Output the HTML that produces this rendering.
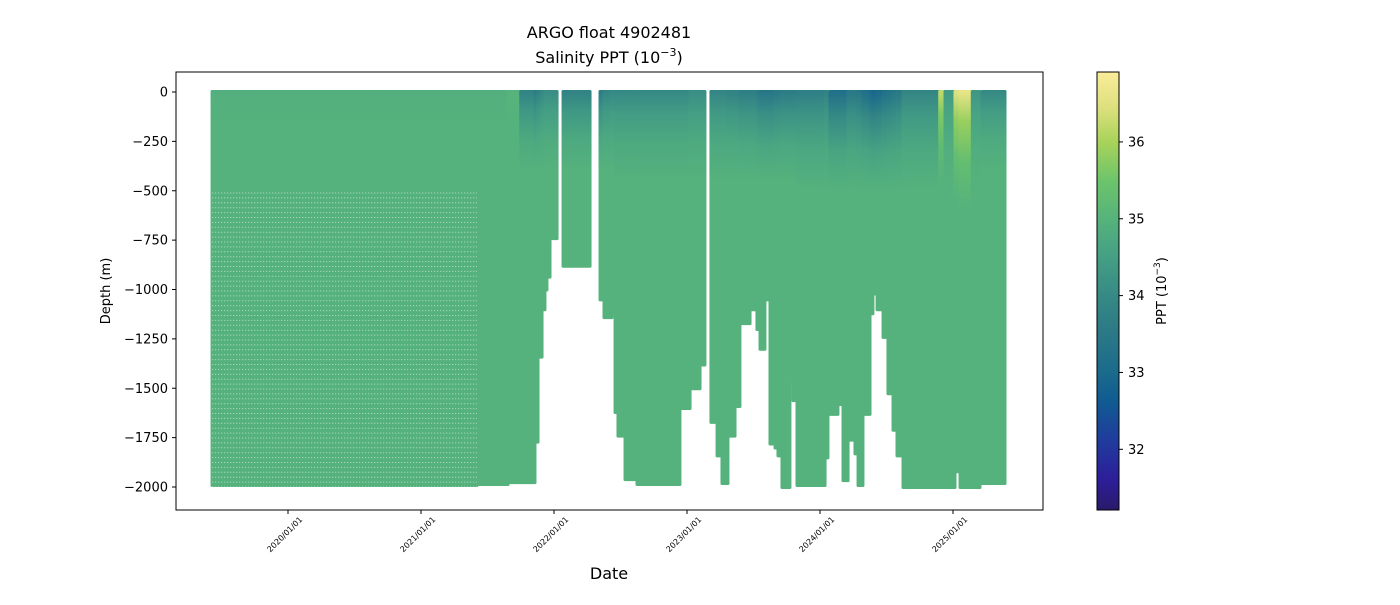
<!DOCTYPE html>
<html><head><meta charset="utf-8"><style>
body{margin:0;background:#fff;font-family:"Liberation Sans","DejaVu Sans",sans-serif;}
svg text{font-family:"DejaVu Sans","Liberation Sans",sans-serif;}
</style></head><body>
<svg id="c" width="1400" height="600" xmlns="http://www.w3.org/2000/svg">
<defs>
<linearGradient id="cbg" x1="0" y1="1" x2="0" y2="0"></linearGradient>
</defs>
<g id="plot"></g>
<rect x="176" y="72" width="867" height="438" fill="none" stroke="#000" stroke-width="1"/>
<text x="609" y="38" text-anchor="middle" font-size="16">ARGO float 4902481</text>
<text x="609" y="63" text-anchor="middle" font-size="16">Salinity PPT (10<tspan dy="-7" font-size="11">−3</tspan><tspan dy="7">)</tspan></text>
<text x="609" y="579" text-anchor="middle" font-size="16">Date</text>
<text transform="translate(110,291) rotate(-90)" text-anchor="middle" font-size="13">Depth (m)</text>
<rect x="1097" y="72" width="22" height="438" fill="url(#cbg)" stroke="#000" stroke-width="1"/>
<text transform="translate(1166,291) rotate(-90)" text-anchor="middle" font-size="13">PPT (10<tspan dy="-6" font-size="9">−3</tspan><tspan dy="6">)</tspan></text>
<g id="axes"></g>
</svg>
<script>
const segStart=[2019.429,2021.421,2021.654,2021.75,2021.857,2021.880,2021.910,2021.932,2021.947,2021.970,2022.068,2022.346,2022.376,2022.436,2022.459,2022.481,2022.534,2022.624,2022.947,2023.023,2023.098,2023.180,2023.226,2023.263,2023.308,2023.361,2023.398,2023.474,2023.526,2023.549,2023.586,2023.624,2023.662,2023.684,2023.714,2023.774,2023.797,2023.827,2024.038,2024.075,2024.135,2024.173,2024.211,2024.263,2024.286,2024.323,2024.376,2024.398,2024.429,2024.474,2024.511,2024.549,2024.579,2024.624,2024.90,2024.94,2025.015,2025.053,2025.145,2025.218];
const segEnd=[2021.421,2021.654,2021.75,2021.857,2021.880,2021.910,2021.932,2021.947,2021.970,2022.023,2022.271,2022.376,2022.436,2022.459,2022.481,2022.534,2022.624,2022.947,2023.023,2023.098,2023.135,2023.226,2023.263,2023.308,2023.361,2023.398,2023.474,2023.526,2023.549,2023.586,2023.624,2023.662,2023.684,2023.714,2023.774,2023.797,2023.827,2024.038,2024.060,2024.135,2024.173,2024.211,2024.263,2024.286,2024.323,2024.376,2024.398,2024.429,2024.474,2024.511,2024.549,2024.579,2024.624,2024.90,2024.94,2025.015,2025.053,2025.145,2025.203,2025.391];
const maxDepth=[1990,1985,1975,1975,1770,1340,1100,1000,935,740,880,1050,1140,1120,1620,1740,1960,1985,1600,1500,1380,1670,1840,1980,1740,1590,1170,1100,1200,1300,1050,1780,1800,1840,2000,1460,1560,1990,1850,1630,1580,1965,1760,1830,1990,1630,1120,1020,1100,1240,1525,1710,1840,2000,2000,2000,1920,2000,2000,1980];
const surfSal=[34.9,34.9,35.0,33.8,33.6,33.8,34.0,34.1,34.1,34.1,33.8,33.6,33.9,34.0,34.0,34.0,34.0,34.0,34.0,34.1,34.1,33.9,33.9,33.9,33.8,33.8,33.7,33.7,33.6,33.4,33.4,33.4,33.5,33.5,33.6,33.6,33.6,33.7,33.8,33.2,33.2,33.2,33.5,33.5,33.4,33.2,33.0,32.9,33.0,33.2,33.3,33.4,33.5,33.9,36.2,34.4,36.5,36.6,34.3,34.0];
const mixDepth=[200,200,250,400,400,400,400,400,400,400,400,400,400,400,450,450,450,450,450,450,450,450,450,450,450,450,450,450,450,450,450,450,450,450,450,450,450,500,500,500,500,500,500,500,500,500,500,500,500,500,500,500,500,500,450,450,550,600,450,400];
const yTicks=[0,-250,-500,-750,-1000,-1250,-1500,-1750,-2000];
const xTicks=[2020,2021,2022,2023,2024,2025];
const cTicks=[32,33,34,35,36];
const cMin=31.21,cMax=36.91;
const X=t=>288+(t-2020)*133;
const Y=d=>92-d*0.1975;
const CY=v=>510-(v-cMin)/(cMax-cMin)*438;
const stops=[[31.21,[42,26,107]],[31.61,[45,30,154]],[32.12,[31,60,156]],[32.64,[16,92,146]],[32.98,[26,106,140]],[33.55,[44,122,134]],[34.0,[54,138,133]],[34.52,[69,160,132]],[34.97,[85,178,124]],[35.49,[108,196,106]],[36.0,[168,211,90]],[36.45,[221,224,126]],[36.91,[251,236,154]]];
function col(v){v=Math.max(cMin,Math.min(cMax,v));for(let i=1;i<stops.length;i++){if(v<=stops[i][0]){const a=stops[i-1],b=stops[i],f=(v-a[0])/(b[0]-a[0]);return 'rgb('+a[1].map((c,k)=>Math.round(c+(b[1][k]-c)*f)).join(',')+')';}}return 'rgb(251,236,154)';}
const NS='http://www.w3.org/2000/svg';
const plot=document.getElementById('plot'),axes=document.getElementById('axes'),defs=document.querySelector('defs');
const cbg=document.getElementById('cbg');
stops.forEach(s=>{const st=document.createElementNS(NS,'stop');st.setAttribute('offset',(s[0]-cMin)/(cMax-cMin));st.setAttribute('stop-color','rgb('+s[1].join(',')+')');cbg.appendChild(st);});
const baseV=34.97;
for(let i=0;i<segStart.length;i++){
 const g=document.createElementNS(NS,'linearGradient');g.setAttribute('id','g'+i);g.setAttribute('gradientUnits','userSpaceOnUse');
 g.setAttribute('x1',0);g.setAttribute('x2',0);g.setAttribute('y1',Y(0));g.setAttribute('y2',Y(-mixDepth[i]));
 const s=surfSal[i];
 g.innerHTML='<stop offset="0" stop-color="'+col(s)+'"/><stop offset="0.25" stop-color="'+col(s+(baseV-s)*0.45)+'"/><stop offset="0.6" stop-color="'+col(s+(baseV-s)*0.8)+'"/><stop offset="1" stop-color="'+col(baseV)+'"/>';
 defs.appendChild(g);
 const r=document.createElementNS(NS,'rect');
 const x0=X(segStart[i])-1.5,x1=X(segEnd[i])+1.5;
 r.setAttribute('x',x0);r.setAttribute('y',Y(0)-2);r.setAttribute('width',x1-x0);r.setAttribute('height',Y(-maxDepth[i])-Y(0)+4);
 r.setAttribute('rx',1.5);r.setAttribute('fill','url(#g'+i+')');
 
 
 plot.appendChild(r);
}
for(let yy=193;yy<487;yy+=4.9){
 const l=document.createElementNS(NS,'line');
 l.setAttribute('x1',X(segStart[0]));l.setAttribute('x2',X(segEnd[0]));l.setAttribute('y1',yy);l.setAttribute('y2',yy);
 l.setAttribute('stroke','#fff');l.setAttribute('stroke-opacity','0.5');l.setAttribute('stroke-dasharray','1.2 1.8');
 
 
 plot.appendChild(l);
}
yTicks.forEach(v=>{
 const y=Y(v);
 const l=document.createElementNS(NS,'line');l.setAttribute('x1',172);l.setAttribute('x2',176);l.setAttribute('y1',y);l.setAttribute('y2',y);l.setAttribute('stroke','#000');
 
 
 axes.appendChild(l);
 const t=document.createElementNS(NS,'text');t.setAttribute('x',168);t.setAttribute('y',y+4.5);t.setAttribute('text-anchor','end');t.setAttribute('font-size','13');
 t.textContent=v<0?'−'+(-v):String(v);
 
 
 axes.appendChild(t);
});
xTicks.forEach(v=>{
 const x=X(v);
 const l=document.createElementNS(NS,'line');l.setAttribute('x1',x);l.setAttribute('x2',x);l.setAttribute('y1',510);l.setAttribute('y2',514);l.setAttribute('stroke','#000');
 
 
 axes.appendChild(l);
 const t=document.createElementNS(NS,'text');t.setAttribute('transform','translate('+(x+15)+',520) rotate(-45)');t.setAttribute('text-anchor','end');t.setAttribute('font-size','8');
 t.textContent=v+'/01/01';
 
 
 axes.appendChild(t);
});
cTicks.forEach(v=>{
 const y=CY(v);
 const l=document.createElementNS(NS,'line');l.setAttribute('x1',1119);l.setAttribute('x2',1123);l.setAttribute('y1',y);l.setAttribute('y2',y);l.setAttribute('stroke','#000');
 
 
 axes.appendChild(l);
 const t=document.createElementNS(NS,'text');t.setAttribute('x',1128);t.setAttribute('y',y+4.5);t.setAttribute('font-size','13');
 t.textContent=v;
 
 
 axes.appendChild(t);
});
</script>
</body></html>
